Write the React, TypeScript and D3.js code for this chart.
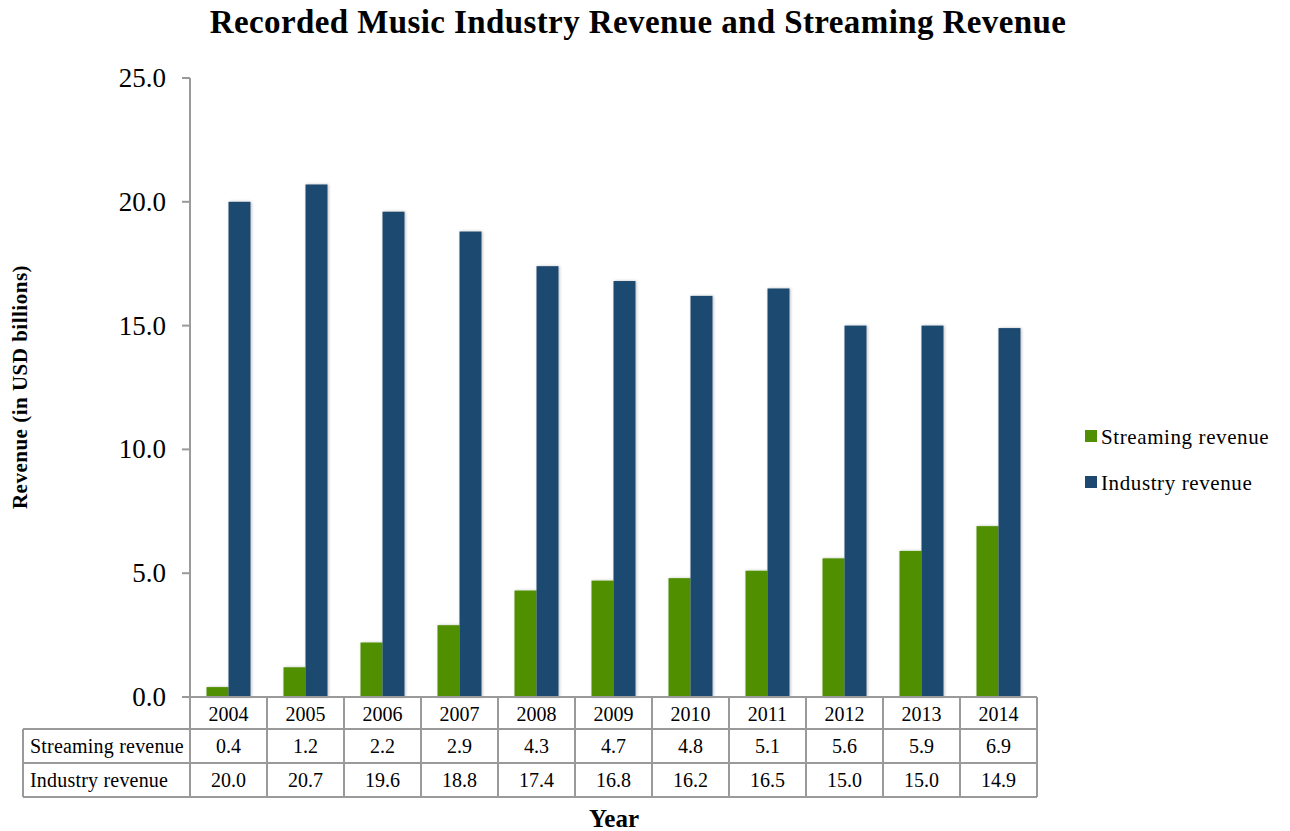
import React from "react";
import * as d3 from "d3";

const years = ["2004", "2005", "2006", "2007", "2008", "2009", "2010", "2011", "2012", "2013", "2014"];
const streaming = [0.4, 1.2, 2.2, 2.9, 4.3, 4.7, 4.8, 5.1, 5.6, 5.9, 6.9];
const industry = [20.0, 20.7, 19.6, 18.8, 17.4, 16.8, 16.2, 16.5, 15.0, 15.0, 14.9];
const yTicks = [0, 5, 10, 15, 20, 25];
const seriesNames = ["Streaming revenue", "Industry revenue"];
const seriesColors = ["#4F8F00", "#1F4870"];

const FONT = "'Liberation Serif', 'DejaVu Serif', serif";

export default function App() {
  const left = 190, right = 1037, top = 78, bottom = 697;
  const x = d3.scaleBand<string>().domain(years).range([left, right]).padding(0);
  const y = d3.scaleLinear().domain([0, 25]).range([bottom, top]);
  const bw = 22;
  const rowH = 34;
  const headerBottom = 729;
  const tableLeft = 23;
  const grid = "#9a9a9a";
  const rows = [streaming, industry];

  return (
    <div style={{ position: "fixed", left: 0, top: 0 }}>
      <svg width={1290} height={831} style={{ display: "block", background: "#fff" }}>
        <defs>
          <filter id="sh" x="-30%" y="-10%" width="160%" height="120%">
            <feDropShadow dx="1" dy="0" stdDeviation="1.5" floodColor="#000" floodOpacity="0.25" />
          </filter>
        </defs>
        <text x={638} y={33} textAnchor="middle" fontFamily={FONT} fontWeight="bold" fontSize={33} letterSpacing={0.4}>
          Recorded Music Industry Revenue and Streaming Revenue
        </text>

        {/* y axis */}
        <line x1={left} x2={left} y1={top} y2={bottom} stroke={grid} strokeWidth={2} />
        {yTicks.map((t) => (
          <g key={t}>
            <line x1={left - 8} x2={left} y1={y(t)} y2={y(t)} stroke={grid} strokeWidth={2} />
            <text x={166} y={y(t) + 9} textAnchor="end" fontFamily={FONT} fontSize={27}>
              {t.toFixed(1)}
            </text>
          </g>
        ))}

        {/* bars */}
        {years.map((yr, i) => {
          const cx = (x(yr) as number) + x.bandwidth() / 2;
          return (
            <g key={yr} filter="url(#sh)">
              <rect x={cx - bw} y={y(streaming[i])} width={bw} height={bottom - y(streaming[i])} fill={seriesColors[0]} />
              <rect x={cx} y={y(industry[i])} width={bw} height={bottom - y(industry[i])} fill={seriesColors[1]} />
            </g>
          );
        })}

        {/* data table */}
        <g fontFamily={FONT} fontSize={20}>
          <line x1={left} x2={right} y1={bottom} y2={bottom} stroke={grid} strokeWidth={2} />
          {[headerBottom, headerBottom + rowH, headerBottom + 2 * rowH].map((yy, k) => (
            <line key={k} x1={tableLeft} x2={right} y1={yy} y2={yy} stroke={grid} strokeWidth={2} />
          ))}
          <line x1={tableLeft} x2={tableLeft} y1={headerBottom} y2={headerBottom + 2 * rowH} stroke={grid} strokeWidth={2} />
          {years.map((yr) => (
            <line key={yr} x1={(x(yr) as number) + x.bandwidth()} x2={(x(yr) as number) + x.bandwidth()} y1={bottom} y2={headerBottom + 2 * rowH} stroke={grid} strokeWidth={2} />
          ))}
          <line x1={left} x2={left} y1={bottom} y2={headerBottom + 2 * rowH} stroke={grid} strokeWidth={2} />
          {years.map((yr) => (
            <text key={yr} x={(x(yr) as number) + x.bandwidth() / 2} y={bottom + 24} textAnchor="middle">
              {yr}
            </text>
          ))}
          {rows.map((vals, r) => (
            <g key={r}>
              <text x={30} y={headerBottom + r * rowH + 24} letterSpacing={0.2}>{seriesNames[r]}</text>
              {vals.map((v, i) => (
                <text key={i} x={(x(years[i]) as number) + x.bandwidth() / 2} y={headerBottom + r * rowH + 24} textAnchor="middle">
                  {v.toFixed(1)}
                </text>
              ))}
            </g>
          ))}
        </g>

        {/* axis titles */}
        <text transform="translate(27,387) rotate(-90)" textAnchor="middle" fontFamily={FONT} fontWeight="bold" fontSize={21} letterSpacing={0.5}>
          Revenue (in USD billions)
        </text>
        <text x={614} y={827} textAnchor="middle" fontFamily={FONT} fontWeight="bold" fontSize={25}>
          Year
        </text>

        {/* legend */}
        {seriesNames.map((n, i) => (
          <g key={n} transform={`translate(1085,${430 + i * 46})`}>
            <rect x={0} y={0} width={12} height={12} fill={seriesColors[i]} />
            <text x={16} y={14} fontFamily={FONT} fontSize={21} letterSpacing={0.6}>{n}</text>
          </g>
        ))}
      </svg>
    </div>
  );
}
